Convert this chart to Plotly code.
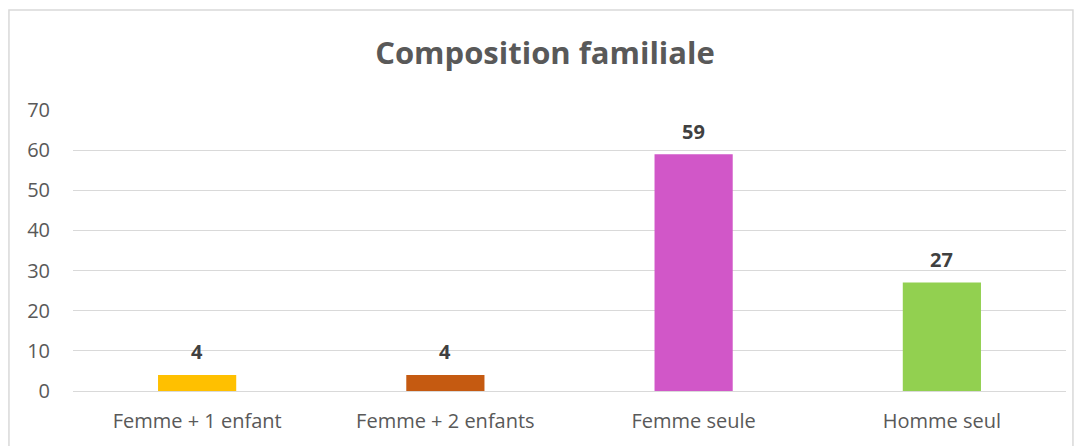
import plotly.graph_objects as go

# Data
categories = ["Femme + 1 enfant", "Femme + 2 enfants", "Femme seule", "Homme seul"]
counts = [4, 4, 59, 27]
bar_colors = ["#FFC000", "#C55A11", "#D157C8", "#92D050"]
y_ticks = [0, 10, 20, 30, 40, 50, 60, 70]

FONT = "Open Sans, Liberation Sans, sans-serif"
GREY = "#595959"

fig = go.Figure(
    go.Bar(
        x=categories,
        y=counts,
        marker=dict(color=bar_colors, line=dict(width=0)),
        width=0.315,
        hoverinfo="x+y",
    )
)

# value labels above the bars
for cat, val in zip(categories, counts):
    fig.add_annotation(
        x=cat,
        y=val,
        text=f"<b>{val}</b>",
        showarrow=False,
        yanchor="middle",
        yshift=23,
        font=dict(family=FONT, size=20, color="#404040"),
    )

# the page body has an 8px margin, so the figure is 8px smaller
fig.update_layout(
    width=1074,
    height=438,
    margin=dict(l=65, r=16, t=102, b=55),
    paper_bgcolor="white",
    plot_bgcolor="white",
    showlegend=False,
    title=dict(
        text="<b>Composition familiale</b>",
        x=0.5,
        xanchor="center",
        y=0.897,
        yanchor="middle",
        font=dict(family=FONT, size=31, color=GREY),
    ),
    font=dict(family=FONT, color=GREY),
)

fig.update_yaxes(
    range=[0, 70],
    tickvals=y_ticks,
    showgrid=True,
    gridcolor="#d9d9d9",
    gridwidth=1.3,
    zeroline=True,
    zerolinecolor="#d9d9d9",
    zerolinewidth=1.3,
    showline=False,
    ticks="",
    ticklabelstandoff=22,
    tickfont=dict(family=FONT, size=20, color=GREY),
)

fig.update_xaxes(
    showgrid=False,
    showline=False,
    ticks="",
    ticklabelstandoff=16,
    tickfont=dict(family=FONT, size=20, color=GREY),
)

# chart frame
fig.add_shape(
    type="rect",
    xref="paper",
    yref="paper",
    x0=-0.0645,
    x1=1.007,
    y0=-0.25,
    y1=1.356,
    line=dict(color="#d9d9d9", width=1.5),
    layer="below",
)

fig.write_html("out.html")
